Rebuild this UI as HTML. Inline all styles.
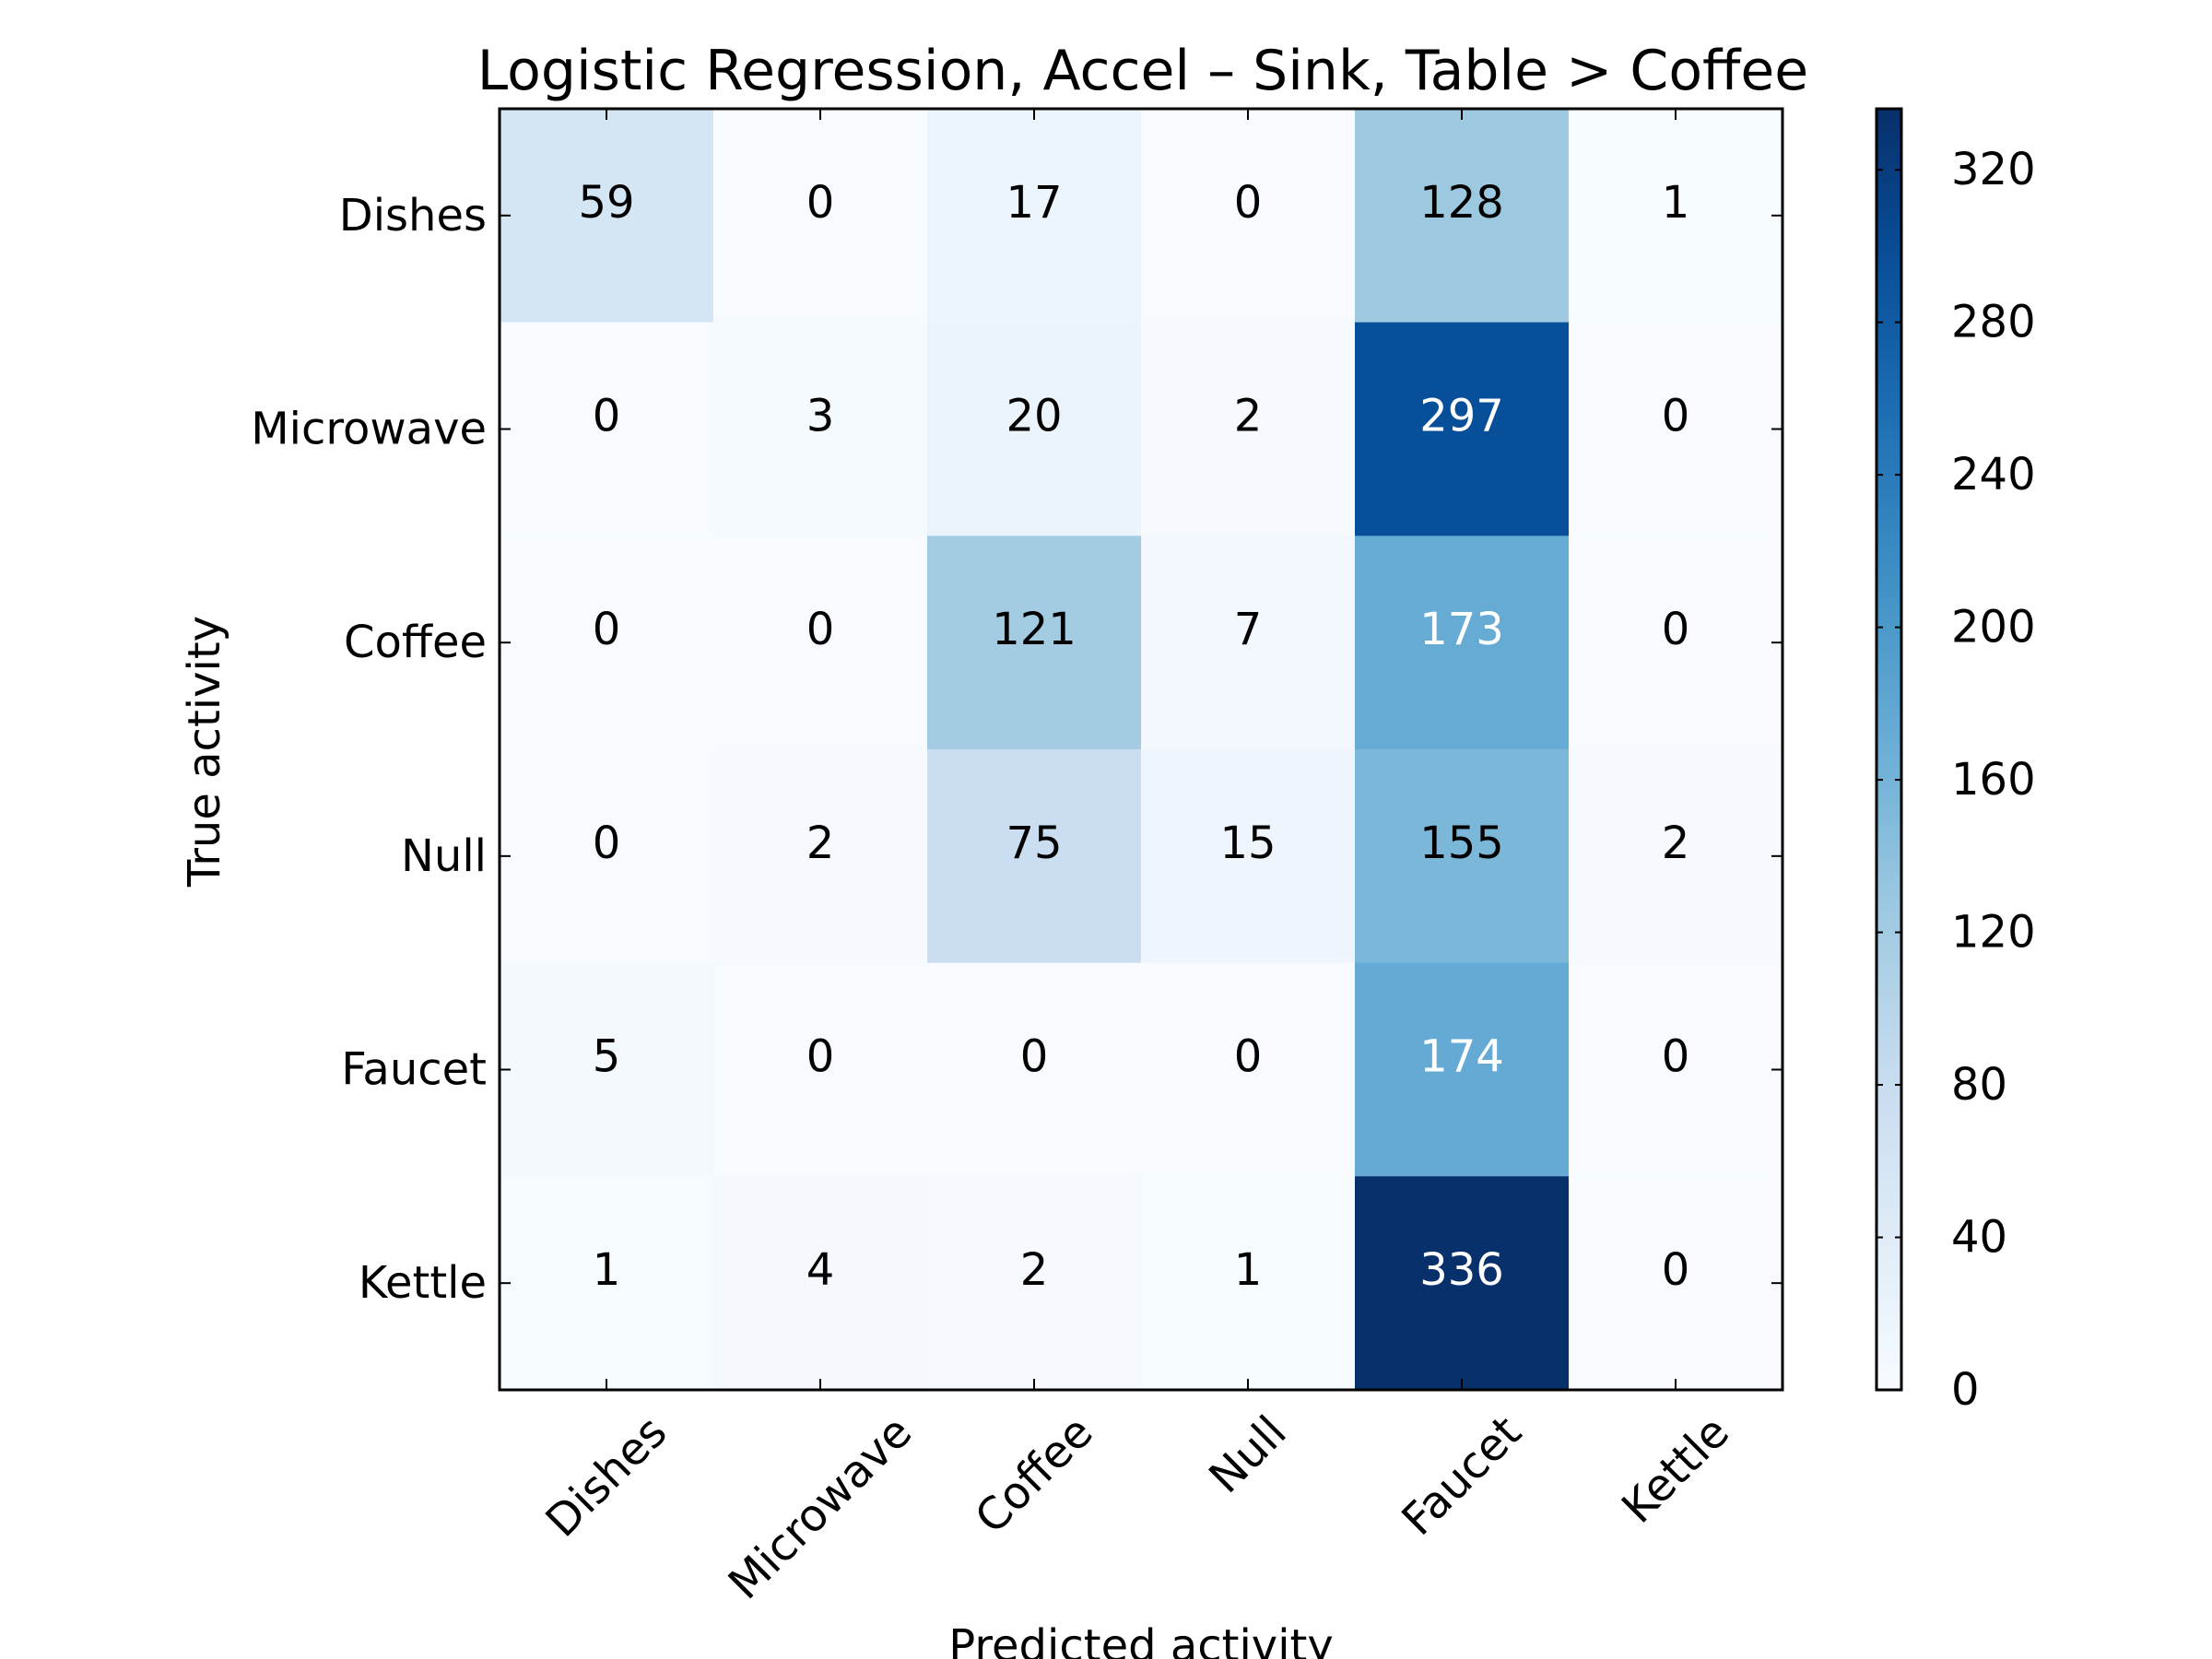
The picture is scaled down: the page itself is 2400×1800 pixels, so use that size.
<!DOCTYPE html>
<html><head><meta charset="utf-8"><style>
html,body{margin:0;padding:0;background:#fff;}
svg{display:block;font-family:"DejaVu Sans","Liberation Sans",sans-serif;}
</style></head><body>
<svg id="chart" width="2400" height="1800" viewBox="0 0 2400 1800" xmlns="http://www.w3.org/2000/svg">
<rect width="2400" height="1800" fill="#fff"/>
<text x="1240" y="77" font-size="60" text-anchor="middle" dominant-baseline="central">Logistic Regression, Accel – Sink, Table &gt; Coffee</text>
<g id="cells"></g>
<g id="axes"></g>
<g id="cbar"></g>
<text x="0" y="0" font-size="48" text-anchor="middle" dominant-baseline="central" transform="translate(222,815) rotate(-90)">True activity</text>
<text x="1238" y="1786" font-size="48" text-anchor="middle" dominant-baseline="central">Predicted activity</text>
</svg>
<script>
const categories = ["Dishes","Microwave","Coffee","Null","Faucet","Kettle"];
const row0 = [59,0,17,0,128,1];
const row1 = [0,3,20,2,297,0];
const row2 = [0,0,121,7,173,0];
const row3 = [0,2,75,15,155,2];
const row4 = [5,0,0,0,174,0];
const row5 = [1,4,2,1,336,0];
const matrix = [row0,row1,row2,row3,row4,row5];
const cbarTicks = [0,40,80,120,160,200,240,280,320];

const NS="http://www.w3.org/2000/svg";
const L=542,R=1934,T=118,B=1508;
const n=categories.length;
const cw=(R-L)/n, ch=(B-T)/n;
let vmax=0; matrix.forEach(r=>r.forEach(v=>{if(v>vmax)vmax=v;}));
const stops=["#f7fbff","#deebf7","#c6dbef","#9ecae1","#6baed6","#4292c6","#2171b5","#08519c","#08306b"].map(h=>[parseInt(h.slice(1,3),16),parseInt(h.slice(3,5),16),parseInt(h.slice(5,7),16)]);
function blues(t){t=Math.max(0,Math.min(1,t));const p=t*(stops.length-1);const i=Math.min(Math.floor(p),stops.length-2);const f=p-i;const c=stops[i].map((a,k)=>Math.round(a+(stops[i+1][k]-a)*f));return `rgb(${c[0]},${c[1]},${c[2]})`;}
function xPos(j){return L+(j+0.5)*cw;}
function yPos(i){return T+(i+0.5)*ch;}
function mk(tag,attrs,parent){const e=document.createElementNS(NS,tag);for(const k in attrs)e.setAttribute(k,attrs[k]);parent.appendChild(e);return e;}
const cells=document.getElementById('cells');
matrix.forEach((r,i)=>r.forEach((v,j)=>{
  const rc=mk('rect',{x:L+j*cw,y:T+i*ch,width:cw+0.5,height:ch+0.5,fill:blues(v/vmax)},cells);
  
  
  const t=mk('text',{x:xPos(j),y:yPos(i)-14,'font-size':48,'text-anchor':'middle','dominant-baseline':'central',fill:v>vmax/2?'#fff':'#000'},cells);
  t.textContent=v;
  
  
}));
const ax=document.getElementById('axes');
const frame=mk('rect',{x:L,y:T,width:R-L,height:B-T,fill:'none',stroke:'#000','stroke-width':3},ax);


categories.forEach((c,i)=>{
  const y=yPos(i);
  mk('line',{x1:L,x2:L+12,y1:y,y2:y,stroke:'#000','stroke-width':2},ax);
  mk('line',{x1:R-12,x2:R,y1:y,y2:y,stroke:'#000','stroke-width':2},ax);
  const t=mk('text',{x:L-14,y:y,'font-size':48,'text-anchor':'end','dominant-baseline':'central'},ax);
  t.textContent=c;
  
  
});
categories.forEach((c,j)=>{
  const x=xPos(j);
  mk('line',{x1:x,x2:x,y1:B-12,y2:B,stroke:'#000','stroke-width':2},ax);
  mk('line',{x1:x,x2:x,y1:T,y2:T+12,stroke:'#000','stroke-width':2},ax);
  const t=mk('text',{x:0,y:0,'font-size':48,'text-anchor':'middle','dominant-baseline':'central'},ax);
  t.textContent=c;
  
  
  const w=t.getComputedTextLength();
  const cy=1530+(w+44)*0.7071/2;
  t.setAttribute('transform',`translate(${x},${cy}) rotate(-45)`);
});
const cb=document.getElementById('cbar');
const CL=2036,CR=2063;
const grad=mk('linearGradient',{id:'g',x1:0,y1:1,x2:0,y2:0},mk('defs',{},cb));
for(let k=0;k<=20;k++)mk('stop',{offset:k/20,'stop-color':blues(k/20)},grad);
const cr=mk('rect',{x:CL,y:T,width:CR-CL,height:B-T,fill:'url(#g)',stroke:'#000','stroke-width':3},cb);


function cy(v){return B-(v/vmax)*(B-T);}
cbarTicks.forEach(v=>{
  const y=cy(v);
  mk('line',{x1:CL,x2:CL+7,y1:y,y2:y,stroke:'#000','stroke-width':2},cb);
  mk('line',{x1:CR-7,x2:CR,y1:y,y2:y,stroke:'#000','stroke-width':2},cb);
  const t=mk('text',{x:CR+54,y:y,'font-size':48,'dominant-baseline':'central'},cb);
  t.textContent=v;
  
  
});
</script>
</body></html>
